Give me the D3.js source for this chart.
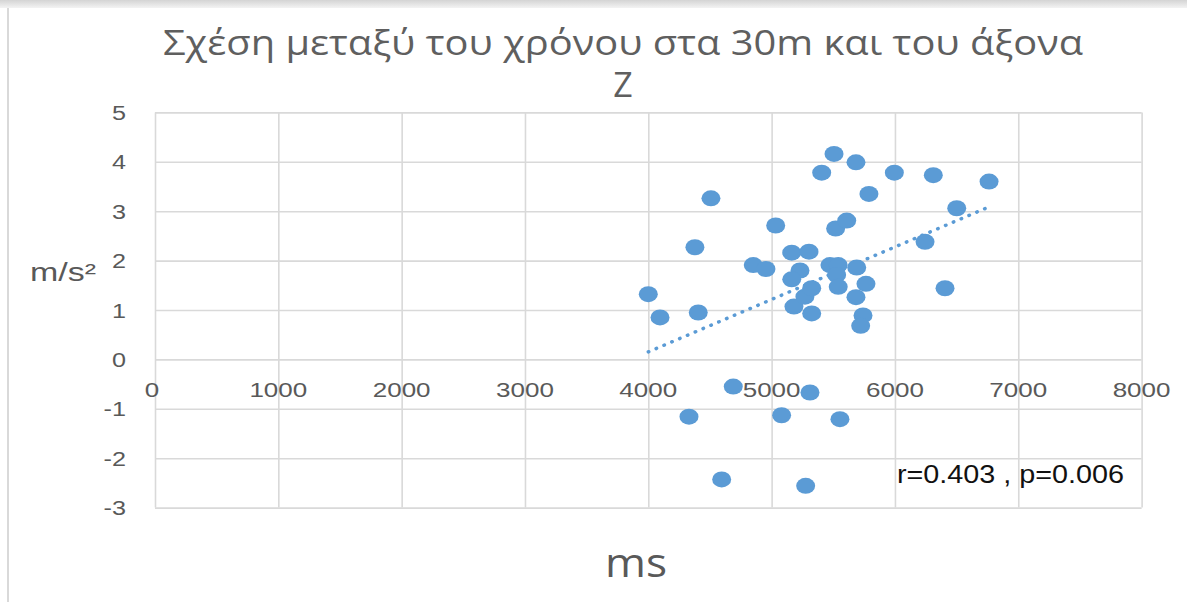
<!DOCTYPE html>
<html>
<head>
<meta charset="utf-8">
<script src="https://cdn.jsdelivr.net/npm/d3@7"></script>
<style>
  html, body { margin: 0; padding: 0; background: #fff; }
  svg { display: block; }
</style>
</head>
<body>
<svg id="chart" width="1187" height="602"></svg>
<script>
// Time at 30 m (ms) against the Z-axis acceleration (m/s²), one point per athlete
const timeMs = [
  4000, 4095, 4405, 4378, 4508, 4851, 4954, 5033, 5163, 5303,
  5230, 5163, 5181, 5270, 5325, 5325, 5473, 5540, 5527, 5540,
  5519, 5609, 5690, 5765, 5684, 5741, 5722, 5506, 5684, 5406,
  5789, 5995, 6311, 6501, 6763, 6244, 6406, 4689, 5311, 4330,
  5081, 5554, 4595, 5276
];
const accelZ = [
  1.32, 0.85, 0.95, 2.27, 3.26, 1.91, 1.83, 2.71, 2.16, 2.18,
  1.80, 1.62, 1.07, 1.27, 1.44, 0.93, 1.91, 1.91, 1.71, 1.47,
  2.65, 2.81, 1.86, 1.53, 1.26, 0.89, 0.68, 4.16, 3.99, 3.78,
  3.35, 3.78, 3.73, 3.06, 3.60, 2.38, 1.44, -0.55, -0.67, -1.16,
  -1.13, -1.21, -2.43, -2.56
];
const xTicks = [0, 1000, 2000, 3000, 4000, 5000, 6000, 7000, 8000];
const yTicks = [-3, -2, -1, 0, 1, 2, 3, 4, 5];
const titleLines = ["Σχέση μεταξύ του χρόνου στα 30m και του άξονα", "Z"];
const xTitle = "ms";
const yTitle = "m/s²";
const statsLabel = "r=0.403 , p=0.006";

const svg = d3.select("#chart");
const W = 1187, H = 602;
const plot = { left: 155, right: 1141.6, top: 112.4, bottom: 507.6 };

const x = d3.scaleLinear().domain([0, 8000]).range([plot.left, plot.right]);
const y = d3.scaleLinear().domain([-3, 5]).range([plot.bottom, plot.top]);

const grey = "#595959";
const gridCol = "#d9d9d9";
const blue = "#5b9bd5";

// chart frame: soft band on top, thin rule on the left
const defs = svg.append("defs");
const grad = defs.append("linearGradient").attr("id", "topBand")
  .attr("x1", 0).attr("y1", 0).attr("x2", 0).attr("y2", 1);
grad.append("stop").attr("offset", "0%").attr("stop-color", "#d4d4d4");
grad.append("stop").attr("offset", "100%").attr("stop-color", "#f3f3f3");
svg.append("rect").attr("x", 0).attr("y", 0).attr("width", W).attr("height", 8)
  .attr("fill", "url(#topBand)");
svg.append("rect").attr("x", 7).attr("y", 8).attr("width", 2).attr("height", H - 8)
  .attr("fill", gridCol);

// gridlines
const gx = svg.append("g")
  .attr("transform", `translate(0,${plot.bottom})`)
  .call(d3.axisBottom(x).tickValues(xTicks).tickSize(-(plot.bottom - plot.top)).tickFormat(""));
const gy = svg.append("g")
  .attr("transform", `translate(${plot.left},0)`)
  .call(d3.axisLeft(y).tickValues(yTicks).tickSize(-(plot.right - plot.left)).tickFormat(""));
[gx, gy].forEach(g => {
  g.select(".domain").remove();
  g.selectAll(".tick line").attr("stroke", gridCol).attr("stroke-width", 1.6);
});

// horizontally stretched text helper
function label(px, py, txt, opts) {
  const g = svg.append("g").attr("transform", `translate(${px},${py}) scale(${opts.sx || 1},1)`);
  return g.append("text")
    .attr("x", 0).attr("y", 0)
    .attr("text-anchor", opts.anchor || "middle")
    .attr("font-family", opts.family || "'Liberation Sans', Arial, sans-serif")
    .attr("font-size", opts.size)
    .attr("font-weight", opts.weight || "normal")
    .attr("fill", opts.fill || grey)
    .text(txt);
}

// y tick labels (plain hyphen for negatives)
yTicks.forEach(v => {
  label(126, y(v) + 7.5, String(v), { anchor: "end", size: 21, sx: 1.2 });
});
// x tick labels, sitting just under the zero line
xTicks.forEach(v => {
  label(x(v) - (v === 0 ? 3 : 0), y(0) + 38, String(v), { size: 21, sx: 1.24 });
});

// linear trend line over the data range
const n = timeMs.length;
const mx = d3.mean(timeMs), my = d3.mean(accelZ);
let sxy = 0, sxx = 0;
for (let i = 0; i < n; i++) {
  sxy += (timeMs[i] - mx) * (accelZ[i] - my);
  sxx += (timeMs[i] - mx) ** 2;
}
const slope = sxy / sxx, intercept = my - slope * mx;
const [x0, x1] = d3.extent(timeMs);
svg.append("line")
  .attr("x1", x(x0)).attr("y1", y(intercept + slope * x0))
  .attr("x2", x(x1)).attr("y2", y(intercept + slope * x1))
  .attr("stroke", blue).attr("stroke-width", 3.5)
  .attr("stroke-linecap", "round").attr("stroke-dasharray", "0.5 8");

// points
svg.append("g").selectAll("ellipse")
  .data(timeMs.map((t, i) => [t, accelZ[i]]))
  .join("ellipse")
  .attr("cx", d => x(d[0])).attr("cy", d => y(d[1]))
  .attr("rx", 9.5).attr("ry", 8)
  .attr("fill", blue);

// titles
const t1 = label(623, 55, titleLines[0], { size: 34, family: "'Open Sans', sans-serif", fill: "#5f5f5f" });
t1.attr("textLength", 920).attr("lengthAdjust", "spacingAndGlyphs");
label(623, 97, titleLines[1], { size: 34, family: "'Open Sans', sans-serif", fill: "#5f5f5f" });

label(63, 281, yTitle, { size: 25 }).attr("textLength", 66).attr("lengthAdjust", "spacingAndGlyphs");
label(636, 577, xTitle, { size: 40, family: "'Open Sans', sans-serif" })
  .attr("textLength", 62).attr("lengthAdjust", "spacingAndGlyphs");

label(897, 483, statsLabel, { anchor: "start", size: 25, fill: "#111" })
  .attr("textLength", 227).attr("lengthAdjust", "spacingAndGlyphs");
</script>
</body>
</html>
